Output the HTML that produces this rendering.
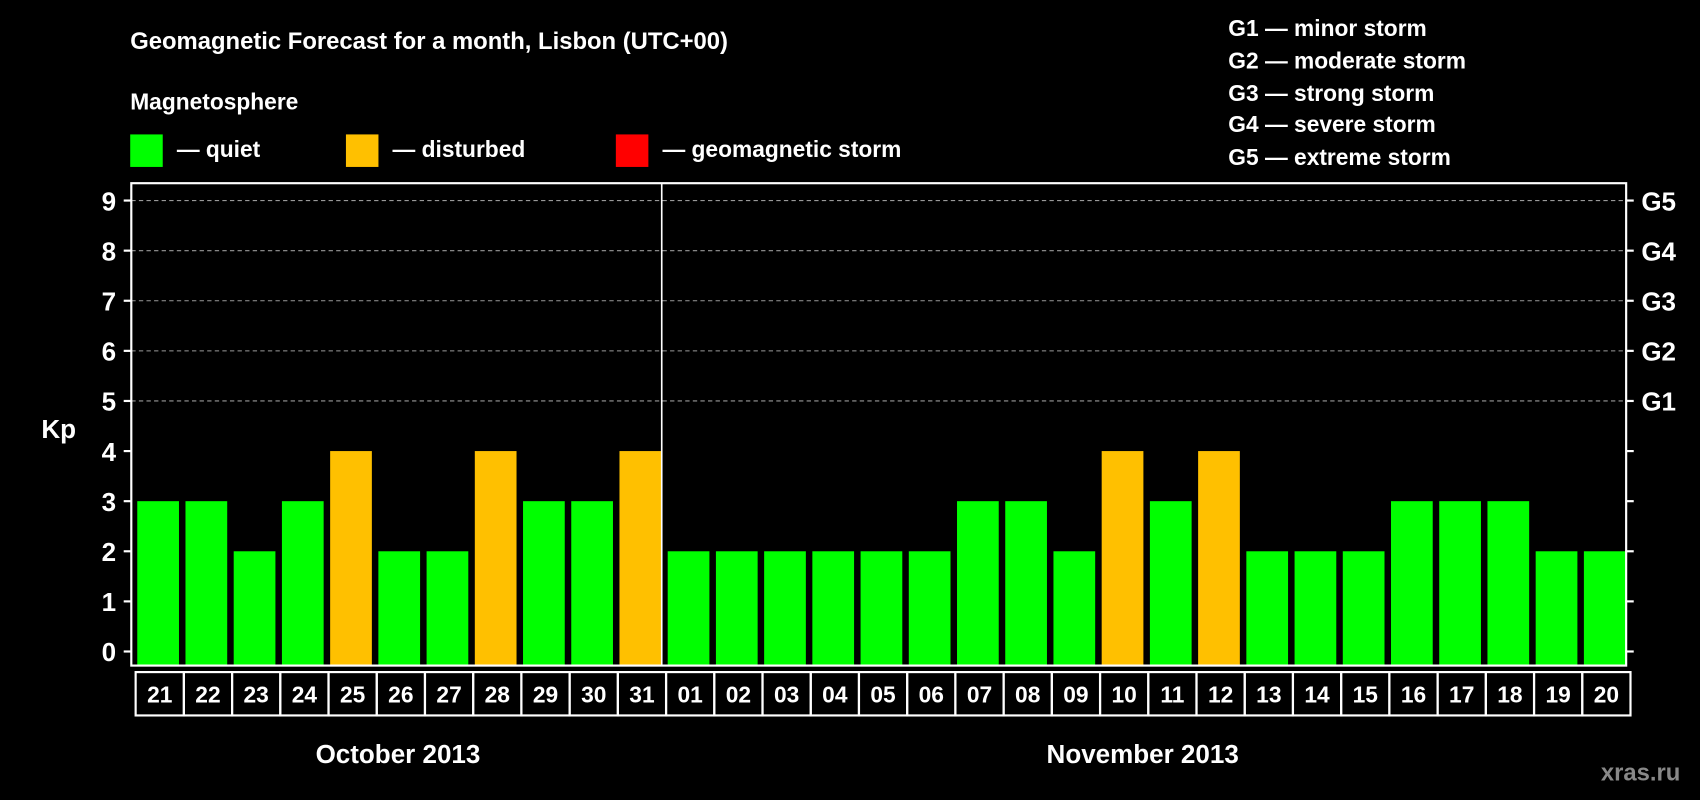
<!DOCTYPE html>
<html><head><meta charset="utf-8"><style>html,body{margin:0;padding:0;background:#000;overflow:hidden}svg{display:block}text{font-family:"Liberation Sans",Arial,sans-serif;font-weight:bold;fill:#fff}</style></head>
<body>
<svg id="chart" width="1700" height="800" viewBox="0 0 1568 738" xmlns="http://www.w3.org/2000/svg">
<rect width="1568" height="738" fill="#000"/>
<text x="120" y="45" font-size="22">Geomagnetic Forecast for a month, Lisbon (UTC+00)</text>
<text x="120" y="101" font-size="21">Magnetosphere</text>
<g><rect x="120" y="124" width="30" height="30" fill="#00ff00"/><text x="163" y="145" font-size="21">— quiet</text></g>
<g><rect x="319" y="124" width="30" height="30" fill="#ffc000"/><text x="362" y="145" font-size="21">— disturbed</text></g>
<g><rect x="568" y="124" width="30" height="30" fill="#ff0000"/><text x="611" y="145" font-size="21">— geomagnetic storm</text></g>
<g font-size="21">
<text x="1133" y="33">G1 — minor storm</text><text x="1133" y="63">G2 — moderate storm</text><text x="1133" y="93">G3 — strong storm</text><text x="1133" y="122">G4 — severe storm</text><text x="1133" y="152">G5 — extreme storm</text></g>
<text x="38" y="404" font-size="24">Kp</text>
<g id="grid"></g><g id="bars"></g><g id="axes"></g>
<text x="367" y="704" font-size="24" text-anchor="middle">October 2013</text>
<text x="1054" y="704" font-size="24" text-anchor="middle">November 2013</text>
<text x="1550" y="720" font-size="22" text-anchor="end" style="fill:#888">xras.ru</text>
</svg>
<script>
const days=["21","22","23","24","25","26","27","28","29","30","31","01","02","03","04","05","06","07","08","09","10","11","12","13","14","15","16","17","18","19","20"];
const kpValues=[3,3,2,3,4,2,2,4,3,3,4,2,2,2,2,2,2,3,3,2,4,3,4,2,2,2,3,3,3,2,2];
const yTicks=[0,1,2,3,4,5,6,7,8,9];
const gLabels=["G1","G2","G3","G4","G5"];
const NS="http://www.w3.org/2000/svg";
const L=121,R=1500,T=169,B=614,Y0=601,Y9=185;
const y=v=>Y0+(Y9-Y0)*v/9;
const slot=(R-L)/days.length;
const x=i=>L+i*slot;
function mk(t,a,p){const e=document.createElementNS(NS,t);for(const k in a)e.setAttribute(k,a[k]);p.appendChild(e);return e;}
const grid=document.getElementById('grid'),bars=document.getElementById('bars'),axes=document.getElementById('axes');
yTicks.forEach(v=>{
 if(v>=5){const g=mk('line',{x1:L,x2:R,y1:y(v),y2:y(v),stroke:'#999','stroke-dasharray':'4 3','stroke-width':1},grid);
 
 }
 mk('line',{x1:L-7,x2:L,y1:y(v),y2:y(v),stroke:'#fff','stroke-width':2},axes);
 mk('line',{x1:R,x2:R+7,y1:y(v),y2:y(v),stroke:'#fff','stroke-width':2},axes);
 const t=mk('text',{x:L-14,y:y(v)+9,'font-size':24,'text-anchor':'end'},axes);t.textContent=v;
 
 
});
gLabels.forEach((g,i)=>{const t=mk('text',{x:R+14,y:y(5+i)+9,'font-size':24},axes);t.textContent=g;
 
 });
kpValues.forEach((v,i)=>{
 const c=v>=5?'#ff0000':v>=4?'#ffc000':'#00ff00';
 const r=mk('rect',{x:x(i)+5.5,y:y(v),width:slot-6,height:(B-1)-y(v),fill:c},bars);
 
 
 const b=mk('rect',{x:x(i)+4,y:620,width:slot,height:40,fill:'none',stroke:'#fff','stroke-width':2},axes);
 const t=mk('text',{x:x(i)+4+slot/2,y:648,'font-size':21,'text-anchor':'middle'},axes);t.textContent=days[i];
 
 
});
mk('rect',{x:L,y:T,width:R-L,height:B-T,fill:'none',stroke:'#fff','stroke-width':2},axes);
mk('line',{x1:x(11),x2:x(11),y1:T,y2:B,stroke:'#fff','stroke-width':1.5},axes);
</script>
</body></html>
